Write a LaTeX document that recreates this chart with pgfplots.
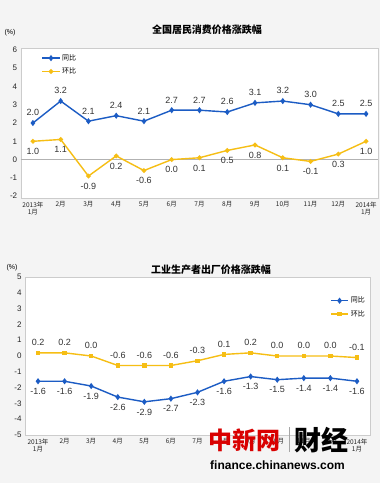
\documentclass[border=0pt]{standalone}
\usepackage{fontspec}
\setmainfont{Liberation Sans}
\newfontfamily\cjk{Noto Sans CJK SC}
\usepackage{pgfplots}
\pgfplotsset{compat=1.18}
\definecolor{cblue}{RGB}{28,92,196}
\definecolor{cyel}{RGB}{246,190,20}
\definecolor{bg}{RGB}{244,244,244}
\pgfplotsset{
 mystyle/.style={scale only axis,
   axis background/.style={fill=white},
   axis line style={gray!40},
   tick style={draw=none},
   xtick={0,...,12},
   xticklabels={{2013年\\1月},2月,3月,4月,5月,6月,7月,8月,9月,10月,11月,12月,{2014年\\1月}},
   xticklabel style={font=\cjk\fontsize{6.5}{7.5}\selectfont, align=center, text=black!85},
   yticklabel style={font=\fontsize{8}{9}\selectfont, text=black!85},
   /pgf/number format/assume math mode=true,
   legend style={draw=none, fill=none, font=\cjk\fontsize{7}{8}\selectfont, row sep=2pt},
   legend cell align=left,
   nodes near coords={\pgfmathprintnumber[fixed,fixed zerofill,precision=1,assume math mode=true]{\pgfplotspointmeta}},
   every node near coord/.append style={font=\fontsize{9}{10}\selectfont, text=black!80},
 },
 bl/.style={cblue, line width=1.4pt, mark=diamond*, mark size=2pt, mark options={fill=cblue, draw=cblue}},
 yl/.style={cyel, line width=1.4pt, mark=square*, mark size=1.5pt, mark options={fill=cyel, draw=cyel}},
}
\begin{document}
\begin{tikzpicture}[x=1pt,y=1pt]
\fill[bg] (0,0) rectangle (380,483);
% ---------- top chart ----------
\begin{axis}[mystyle, at={(20.7pt,285pt)}, anchor=south west,
  width=357.3pt, height=150pt,
  xmin=-0.44, xmax=12.43, ymin=-2.1, ymax=6.1, ytick={-2,...,6},
  legend style={at={(0.05,0.985)}, anchor=north west}]
\draw[gray!60, line width=0.6pt] (axis cs:-0.44,0) -- (axis cs:12.43,0);
\addplot[bl, nodes near coords align={above}, every node near coord/.append style={yshift=3pt}] coordinates {
(0,2.0) (1,3.2) (2,2.1) (3,2.4) (4,2.1) (5,2.7) (6,2.7) (7,2.6) (8,3.1) (9,3.2) (10,3.0) (11,2.5) (12,2.5)};
\addlegendentry{同比}
\addplot[yl, mark=*, mark size=1.6pt, nodes near coords align={below}, every node near coord/.append style={yshift=-3pt}] coordinates {
(0,1.0) (1,1.1) (2,-0.9) (3,0.2) (4,-0.6) (5,0.0) (6,0.1) (7,0.5) (8,0.8) (9,0.1) (10,-0.1) (11,0.3) (12,1.0)};
\addlegendentry{环比}
\end{axis}
\node[font=\cjk\bfseries\fontsize{10}{12}\selectfont] at (207,453) {全国居民消费价格涨跌幅};
\node[font=\fontsize{7}{8}\selectfont] at (10,450) {(\%)};
% ---------- bottom chart ----------
\begin{axis}[mystyle, at={(25pt,48pt)}, anchor=south west,
  width=345pt, height=158pt,
  xmin=-0.49, xmax=12.49, ymin=-5, ymax=5, ytick={-5,...,5},
  legend style={at={(1,0.9)}, anchor=north east}]
\addplot[bl, nodes near coords align={below}, every node near coord/.append style={yshift=-3pt}] coordinates {
(0,-1.6) (1,-1.6) (2,-1.9) (3,-2.6) (4,-2.9) (5,-2.7) (6,-2.3) (7,-1.6) (8,-1.3) (9,-1.5) (10,-1.4) (11,-1.4) (12,-1.6)};
\addlegendentry{同比}
\addplot[yl, nodes near coords align={above}, every node near coord/.append style={yshift=3pt}] coordinates {
(0,0.2) (1,0.2) (2,0.0) (3,-0.6) (4,-0.6) (5,-0.6) (6,-0.3) (7,0.1) (8,0.2) (9,0.0) (10,0.0) (11,0.0) (12,-0.1)};
\addlegendentry{环比}
\end{axis}
\node[font=\cjk\bfseries\fontsize{10}{12}\selectfont] at (211,213) {工业生产者出厂价格涨跌幅};
\node[font=\fontsize{7}{8}\selectfont] at (12,215) {(\%)};
% ---------- watermark ----------
\node[text=red!85!black, font=\cjk\bfseries\fontsize{24}{24}\selectfont, anchor=west, inner sep=0pt] at (208,43) {中新网};
\draw[gray!70, line width=0.8pt] (289,31) -- (289,56);
\node[font=\cjk\bfseries\fontsize{27}{27}\selectfont, anchor=west, inner sep=0pt] at (294,43) {财经};
\node[font=\bfseries\fontsize{12}{12}\selectfont, anchor=west, inner sep=0pt] at (210,18) {finance.chinanews.com};
\pgfresetboundingbox
\useasboundingbox (0,0) rectangle (380,483);
\end{tikzpicture}
\end{document}
